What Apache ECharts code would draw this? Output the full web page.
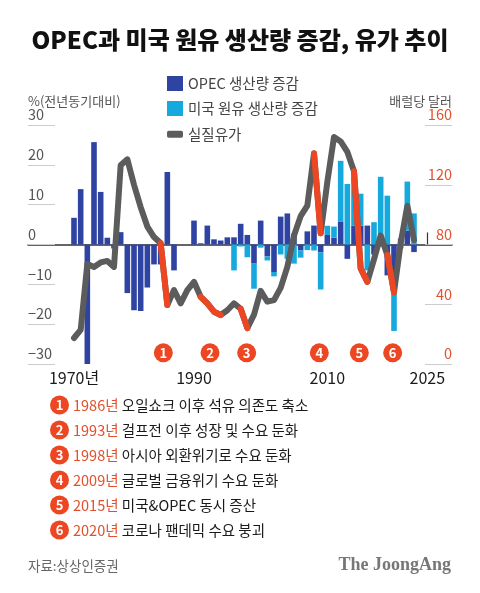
<!DOCTYPE html>
<html><head><meta charset="utf-8">
<script src="https://cdn.jsdelivr.net/npm/echarts@6/dist/echarts.min.js"></script>
<style>html,body{margin:0;padding:0;background:#fff}#c{width:480px;height:593px}</style>
</head><body><div id="c"></div>
<script>
const years = [1972,1973,1974,1975,1976,1977,1978,1979,1980,1981,1982,1983,1984,1985,1986,1987,1988,1989,1990,1991,1992,1993,1994,1995,1996,1997,1998,1999,2000,2001,2002,2003,2004,2005,2006,2007,2008,2009,2010,2011,2012,2013,2014,2015,2016,2017,2018,2019,2020,2021,2022,2023];
const opec = [6.7,13.9,-30,25.7,13.2,1.7,-1,3.1,-12.2,-16.5,-16.7,-10.8,-5,-5,18.2,-6.5,0,0,6.0,0.3,4.75,1.3,1.0,1.8,1.8,5.2,2.4,-4.8,6.0,-3.0,-6.9,7.0,7.8,2.7,-1.5,3.3,4.75,-2,2.4,1.7,5.8,-3.6,4.75,4.75,4.75,-2.5,-0.5,-7.75,-12.2,1.5,3.5,-1.9];
const us = [0,0,0,0,0,0,0,0,0,0,0,0,0,0,0,0,0,0,0,0,0,0,0,0,-6.5,-0.5,-3.2,-6.3,-0.8,-1.0,-1.1,-2.5,-3.6,-4.8,-1.8,-1.4,-1.5,-9.3,2.3,2.8,15.2,15.2,12,8,-6.5,5.6,17,12.25,-9.5,-1,12.3,7.8];
const price = [17.4,22.8,67,65,68,69,65,133,137,120,105,92,85,80.8,39.5,49.5,40.6,49.5,55,45,40.6,35,32.8,36,40.6,37,24,33,49,41.7,42.8,51,65,86,99,106,141,87.5,122,152,149,142,129,64,55,70,86,73,48,81,106,83];
const redRanges = [[1985,1986],[1991,1994],[1997,1998],[2008,2009],[2014,2016],[2019,2020]];
const tickYears = [1972,1990,2010,2025];
const tickLabels = ['1970년','1990','2010','2025'];
const annotYears = [1985.4,1992.4,1997.9,2008.8,2014.8,2019.8];
const annotNums = ['1','2','3','4','5','6'];
const noteYears = ['1986년','1993년','1998년','2009년','2015년','2020년'];
const noteTexts = ['오일쇼크 이후 석유 의존도 축소','걸프전 이후 성장 및 수요 둔화','아시아 외환위기로 수요 둔화','글로벌 금융위기 수요 둔화','미국&OPEC 동시 증산','코로나 팬데믹 수요 붕괴'];
const names = ['OPEC 생산량 증감','미국 원유 생산량 증감','실질유가'];

const FONT = "'Noto Sans CJK KR', 'Noto Sans', sans-serif";
const RED = '#ec4722';
const isRed = y => redRanges.some(r => y >= r[0] && y <= r[1]);

const chart = echarts.init(document.getElementById('c'), null, {renderer:'canvas'});
const notesGraphic = [];
noteTexts.forEach((t, i) => {
  const cy = 405 + 25*i;
  notesGraphic.push(
    {type:'circle', shape:{cx:59.5, cy:cy, r:9.5}, style:{fill:RED}},
    {type:'text', x:59.5, y:cy, style:{text:annotNums[i], fill:'#fff', font:'bold 13px ' + FONT, align:'center', verticalAlign:'middle'}},
    {type:'text', x:73, y:cy, style:{text:'{a|' + noteYears[i] + '} {b|' + t + '}', verticalAlign:'middle',
      rich:{a:{fill:'#e2502c', font:'14.5px ' + FONT}, b:{fill:'#1a1a1a', font:'14.5px ' + FONT}}}}
  );
});

chart.setOption({
  animation: false,
  textStyle: {fontFamily: FONT},
  title: {text:'OPEC과 미국 원유 생산량 증감, 유가 추이', left:'center', top:23,
    textStyle:{fontSize:24, fontWeight:900, color:'#111', fontFamily:FONT}},
  legend: [
    {data:[names[0], names[1]], orient:'vertical', left:167, top:76, padding:0, itemWidth:16, itemHeight:15, itemGap:10,
      icon:'rect', textStyle:{fontSize:14.5, color:'#444', fontFamily:FONT}, selectedMode:false},
    {data:[{name:names[2], icon:'roundRect', itemStyle:{color:'#5c5c5c'}}], left:167, top:127, padding:0, itemWidth:16, itemHeight:7,
      textStyle:{fontSize:14.5, color:'#444', fontFamily:FONT}, selectedMode:false}
  ],
  grid: {left:28, right:28, top:125, bottom:229},
  xAxis: {type:'value', min:1965.1, max:2028.7,
    axisLine:{show:true, lineStyle:{color:'#333', width:1.5}},
    axisTick:{show:true, inside:true, length:12, customValues:tickYears, lineStyle:{color:'#333', width:1.2}},
    axisLabel:{customValues:tickYears, formatter: v => tickLabels[tickYears.indexOf(v)], color:'#1a1a1a', fontSize:16, margin:6, fontFamily:FONT},
    splitLine:{show:false}},
  yAxis: [
    {type:'value', min:-30, max:30, interval:10, position:'left',
      name:'%(전년동기대비)', nameLocation:'end', nameGap:16,
      nameTextStyle:{align:'left', color:'#555', fontSize:13, fontFamily:FONT},
      axisLine:{show:false}, splitLine:{show:false},
      axisTick:{show:true, inside:true, length:27, lineStyle:{color:'#cccccc'}},
      axisLabel:{inside:true, margin:0, align:'left', verticalAlign:'bottom', padding:[0,0,3,0], color:'#555', fontSize:14.5,
        formatter: v => v < 0 ? '\u2212' + Math.abs(v) : String(v)}},
    {type:'value', min:0, max:160, interval:40, position:'right',
      name:'배럴당 달러', nameLocation:'end', nameGap:16,
      nameTextStyle:{align:'right', color:'#555', fontSize:13, fontFamily:FONT},
      axisLine:{show:false}, splitLine:{show:false},
      axisTick:{show:true, inside:true, length:27, lineStyle:{color:'#cccccc'}},
      axisLabel:{inside:true, margin:0, align:'right', verticalAlign:'bottom', padding:[0,0,3,0], color:'#e2502c', fontSize:14.5}}
  ],
  series: [
    {name:names[0], type:'bar', stack:'prod', barWidth:5.6, itemStyle:{color:'#2f43a3'},
      encode:{x:1, y:0}, data: years.map((y,i) => [opec[i], y])},
    {name:names[1], type:'bar', stack:'prod', barWidth:5.6, itemStyle:{color:'#16a9de'},
      encode:{x:1, y:0}, data: years.map((y,i) => [us[i], y])},
    {name:names[2], type:'line', yAxisIndex:1, symbol:'none', itemStyle:{color:'#5c5c5c'},
      lineStyle:{color:'#5c5c5c', width:6, cap:'round', join:'round'},
      data: years.map((y,i) => [y, price[i]])},
    {name:'red', type:'line', yAxisIndex:1, symbol:'none', connectNulls:false,
      lineStyle:{color:RED, width:6, cap:'round', join:'round'},
      data: years.map((y,i) => [y, isRed(y) && (isRed(y-1) || isRed(y+1)) ? price[i] : null])},
    {name:'annot', type:'scatter', yAxisIndex:0, symbol:'circle', symbolSize:19, itemStyle:{color:RED, opacity:1},
      label:{show:true, position:'inside', formatter: p => annotNums[p.dataIndex], color:'#fff', fontWeight:'bold', fontSize:13},
      data: annotYears.map(y => [y, -27.2]), z:5}
  ],
  graphic: [
    ...notesGraphic,
    {type:'text', left:28, top:559, style:{text:'자료:상상인증권', fill:'#666', font:'13.5px ' + FONT}},
    {type:'text', right:29, top:556, style:{text:'The JoongAng', fill:'#777', font:'bold 18px "Liberation Serif", "DejaVu Serif", serif'}}
  ]
});
</script>
</body></html>
